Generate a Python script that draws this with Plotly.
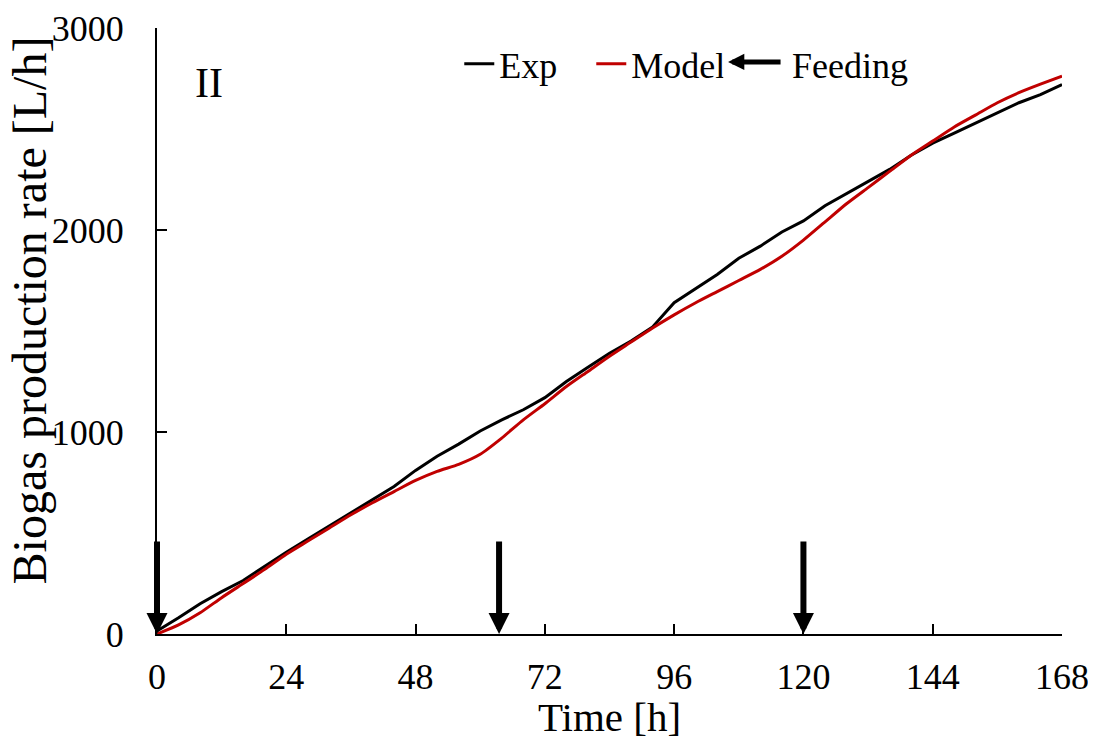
import plotly.graph_objects as go

time_h = [0, 4, 8, 12, 16, 20, 24, 28, 32, 36, 40, 44, 48, 52, 56, 60, 64, 68, 72, 76, 80, 84,
          88, 92, 96, 100, 104, 108, 112, 116, 120, 124, 128, 132, 136, 140, 144, 148, 152, 156,
          160, 164, 168]
exp_rate = [15, 80, 150, 210, 265, 335, 405, 470, 535, 600, 665, 730, 810, 880, 940, 1005,
            1060, 1110, 1170, 1250, 1320, 1390, 1450, 1520, 1640, 1710, 1780, 1860, 1920, 1990,
            2045, 2120, 2180, 2240, 2300, 2370, 2430, 2480, 2530, 2580, 2630, 2670, 2720]
model_rate = [0, 45, 105, 180, 250, 320, 395, 460, 525, 590, 650, 705, 760, 805, 840, 890,
              970, 1060, 1140, 1225, 1300, 1375, 1445, 1515, 1580, 1640, 1695, 1750, 1805, 1870,
              1950, 2040, 2130, 2210, 2290, 2370, 2440, 2510, 2570, 2630, 2680, 2722, 2762]
feeding_times = [0, 63.5, 120]
feeding_arrow_top = 465

x_ticks = [0, 24, 48, 72, 96, 120, 144, 168]
y_ticks = [0, 1000, 2000, 3000]

FONT = "Liberation Serif"

fig = go.Figure()
fig.add_trace(go.Scatter(x=time_h, y=exp_rate, mode="lines", name="Exp",
                         line=dict(color="black", width=3)))
fig.add_trace(go.Scatter(x=time_h, y=model_rate, mode="lines", name="Model",
                         line=dict(color="#C00000", width=3, shape="spline", smoothing=0.6)))

annotations = []
for t in feeding_times:
    annotations.append(dict(x=t, y=0, xref="x", yref="y", ax=t, ay=feeding_arrow_top,
                            axref="x", ayref="y", showarrow=True, arrowhead=2,
                            arrowwidth=6, arrowsize=0.7, arrowcolor="black", text=""))
# legend entry for feeding arrow
annotations.append(dict(x=0.631, y=0.944, xref="paper", yref="paper", ax=54, ay=0,
                        showarrow=True, arrowhead=2, arrowwidth=5, arrowsize=0.65,
                        arrowcolor="black", text=""))
annotations.append(dict(x=0.6994, y=0.938, xref="paper", yref="paper", text="Feeding",
                        showarrow=False, xanchor="left", yanchor="middle",
                        font=dict(family=FONT, size=36, color="black")))
annotations.append(dict(x=0.0575, y=0.91, xref="paper", yref="paper", text="II",
                        showarrow=False, xanchor="center", yanchor="middle",
                        font=dict(family=FONT, size=42, color="black")))
# y-axis title
annotations.append(dict(x=-0.1414, y=0.534, xref="paper", yref="paper",
                        text="Biogas production rate [L/h]", textangle=-90,
                        showarrow=False, xanchor="center", yanchor="middle",
                        font=dict(family=FONT, size=48, color="black")))

fig.update_layout(
    width=1088, height=732,
    margin=dict(l=149, r=34, t=20, b=106, autoexpand=False),
    paper_bgcolor="white", plot_bgcolor="white",
    font=dict(family=FONT, size=36, color="black"),
    showlegend=True,
    legend=dict(orientation="h", x=0.334, y=0.941, xanchor="left", yanchor="middle",
                bgcolor="rgba(0,0,0,0)", font=dict(family=FONT, size=36, color="black"),
                entrywidth=87, entrywidthmode="pixels", itemwidth=30),
    annotations=annotations,
    xaxis=dict(range=[0, 168], tickvals=x_ticks, ticktext=[str(v) for v in x_ticks],
               ticks="inside", ticklen=10, tickwidth=2, tickcolor="black",
               showline=True, linecolor="black", linewidth=2, showgrid=False, zeroline=False,
               automargin=False, ticklabelstandoff=10,
               title=dict(text="Time [h]", font=dict(family=FONT, size=41), standoff=2),
               tickfont=dict(family=FONT, size=36)),
    yaxis=dict(range=[0, 3000], tickvals=y_ticks, ticktext=[str(v) for v in y_ticks],
               ticks="inside", ticklen=10, tickwidth=2, tickcolor="black",
               showline=True, linecolor="black", linewidth=2, showgrid=False, zeroline=False,
               automargin=False, ticklabelstandoff=24,
               tickfont=dict(family=FONT, size=36)),
)

fig.write_html("out.html")
